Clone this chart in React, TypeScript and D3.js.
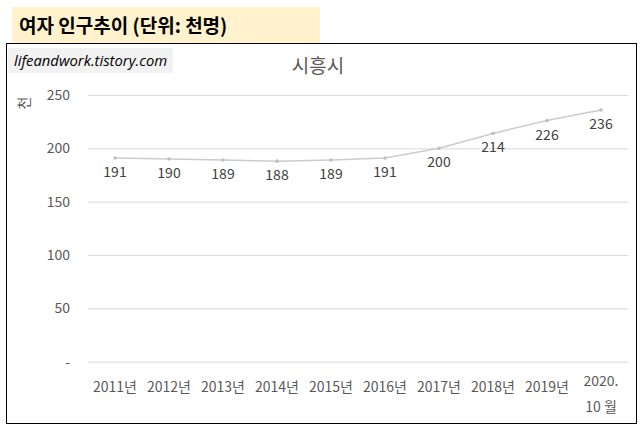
import React, { useEffect, useRef } from 'react';
import * as d3 from 'd3';

const categories = ['2011년', '2012년', '2013년', '2014년', '2015년', '2016년', '2017년', '2018년', '2019년', '2020.\n10 월'];
const values = [191, 190, 189, 188, 189, 191, 200, 214, 226, 236];
const yTicks = [0, 50, 100, 150, 200, 250];

const FONT = '"Malgun Gothic", "Noto Sans CJK KR", sans-serif';

const App: React.FC = () => {
  const svgRef = useRef<SVGSVGElement>(null);

  useEffect(() => {
    if (!svgRef.current) return;
    const svg = d3.select(svgRef.current);
    svg.selectAll('*').remove();

    const width = 643;
    const margin = { left: 88, right: 15, top: 95 };
    const zeroY = 361.7;

    // Title box
    svg.append('rect').attr('x', 12).attr('y', 7).attr('width', 308).attr('height', 36).attr('fill', '#fff2cc');
    svg.append('text')
      .attr('x', 19).attr('y', 33)
      .attr('font-family', FONT).attr('font-size', 19).attr('font-weight', 'bold')
      .attr('fill', '#000')
      .text('여자 인구추이 (단위: 천명)');

    // Chart frame
    svg.append('rect').attr('x', 6.5).attr('y', 43.5).attr('width', 630).attr('height', 380)
      .attr('fill', '#fff').attr('stroke', '#000').attr('stroke-width', 1);

    // Watermark
    svg.append('rect').attr('x', 8).attr('y', 48).attr('width', 165).attr('height', 25).attr('fill', '#f2f2f2');
    svg.append('text')
      .attr('x', 14).attr('y', 66)
      .attr('font-family', '"Open Sans", "Noto Sans", sans-serif').attr('font-size', 14.8).attr('font-style', 'italic')
      .attr('fill', '#000')
      .text('lifeandwork.tistory.com');

    // Chart title
    svg.append('text')
      .attr('x', 318).attr('y', 73)
      .attr('text-anchor', 'middle')
      .attr('font-family', FONT).attr('font-size', 19)
      .attr('fill', '#595959')
      .text('시흥시');

    const x = d3.scaleBand<string>()
      .domain(categories)
      .range([margin.left, width - margin.right]);

    const y = d3.scaleLinear()
      .domain([0, 250])
      .range([zeroY, margin.top]);

    // Grid lines
    svg.append('g')
      .attr('transform', `translate(${margin.left},0)`)
      .call(d3.axisLeft(y).tickValues(yTicks).tickSize(-(width - margin.right - margin.left)).tickFormat(() => ''))
      .call(g => g.select('.domain').remove())
      .call(g => g.selectAll('.tick line').attr('stroke', '#d9d9d9').attr('stroke-width', 1));

    // Y tick labels
    svg.append('g')
      .selectAll('text')
      .data(yTicks)
      .enter()
      .append('text')
      .attr('x', 70)
      .attr('y', d => y(d) + 5)
      .attr('text-anchor', 'end')
      .attr('font-family', FONT).attr('font-size', 14)
      .attr('fill', '#595959')
      .text(d => (d === 0 ? '-' : String(d)));

    // Y axis unit label
    svg.append('text')
      .attr('transform', 'translate(29,103) rotate(-90)')
      .attr('text-anchor', 'middle')
      .attr('font-family', FONT).attr('font-size', 14)
      .attr('fill', '#595959')
      .text('천');

    // X labels
    const xl = svg.append('g');
    categories.forEach(c => {
      const lines = c.split('\n');
      const cx = (x(c) ?? 0) + x.bandwidth() / 2;
      lines.forEach((ln, i) => {
        xl.append('text')
          .attr('x', cx)
          .attr('y', lines.length > 1 ? 386 + i * 26 : 392)
          .attr('text-anchor', 'middle')
          .attr('font-family', FONT).attr('font-size', 14)
          .attr('fill', '#595959')
          .text(ln);
      });
    });

    const pts = values.map((v, i) => ({ c: categories[i], v }));
    const px = (d: { c: string }) => (x(d.c) ?? 0) + x.bandwidth() / 2;

    const line = d3.line<{ c: string; v: number }>()
      .x(px)
      .y(d => y(d.v));

    svg.append('path')
      .datum(pts)
      .attr('fill', 'none')
      .attr('stroke', '#cccccc')
      .attr('stroke-width', 1.5)
      .attr('d', line);

    svg.append('g')
      .selectAll('circle')
      .data(pts)
      .enter()
      .append('circle')
      .attr('cx', px)
      .attr('cy', d => y(d.v))
      .attr('r', 1.8)
      .attr('fill', '#c0c0c0');

    // Data labels
    svg.append('g')
      .selectAll('text')
      .data(pts)
      .enter()
      .append('text')
      .attr('x', px)
      .attr('y', d => y(d.v) + 19)
      .attr('text-anchor', 'middle')
      .attr('font-family', FONT).attr('font-size', 14)
      .attr('fill', '#404040')
      .text(d => String(d.v));
  }, []);

  return (
    <svg
      ref={svgRef}
      width={643}
      height={431}
      style={{ position: 'absolute', left: 0, top: 0, background: '#fff' }}
    />
  );
};

export default App;
